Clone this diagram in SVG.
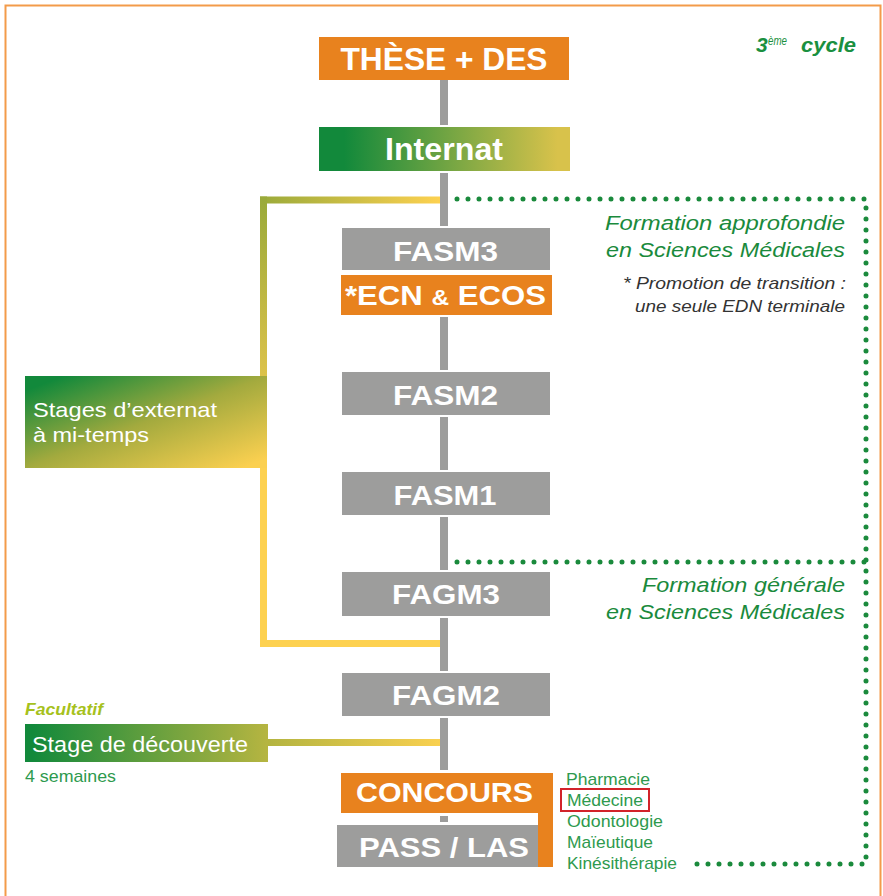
<svg xmlns="http://www.w3.org/2000/svg" width="883" height="896" viewBox="0 0 883 896">
<defs>
<linearGradient id="gInternat" x1="0" y1="0" x2="1" y2="0">
<stop offset="0.1" stop-color="#12893b"/><stop offset="0.95" stop-color="#d8c24b"/>
</linearGradient>
<linearGradient id="gExt" x1="0" y1="0" x2="1" y2="1">
<stop offset="0.08" stop-color="#12893b"/><stop offset="0.5" stop-color="#a3aa3e"/><stop offset="0.95" stop-color="#fbd050"/>
</linearGradient>
<linearGradient id="gDec" x1="0" y1="0" x2="1" y2="0">
<stop offset="0.03" stop-color="#12893b"/><stop offset="1" stop-color="#b6b541"/>
</linearGradient>
<linearGradient id="gDecLine" gradientUnits="userSpaceOnUse" x1="267" y1="0" x2="440" y2="0">
<stop offset="0" stop-color="#b3b440"/><stop offset="1" stop-color="#f9d050"/>
</linearGradient>
<linearGradient id="gTopLine" gradientUnits="userSpaceOnUse" x1="260" y1="0" x2="440" y2="0">
<stop offset="0" stop-color="#9aaa3a"/><stop offset="1" stop-color="#fdd150"/>
</linearGradient>
<linearGradient id="gVertLine" gradientUnits="userSpaceOnUse" x1="0" y1="200" x2="0" y2="376">
<stop offset="0" stop-color="#9aaa3a"/><stop offset="1" stop-color="#dcc24a"/>
</linearGradient>
</defs>
<style>
.box{font-family:"Liberation Sans Narrow","Liberation Sans",Arial,sans-serif;font-weight:bold;fill:#fff;text-anchor:middle;}
.gray{fill:#9d9d9c;}
.orange{fill:#e8821e;}
.title{font-family:"Liberation Sans",Arial,sans-serif;font-style:italic;fill:#1a8a3c;font-size:20px;text-anchor:end;}
.note{font-family:"Liberation Sans",Arial,sans-serif;font-style:italic;fill:#333;font-size:17px;text-anchor:end;}
.list{font-family:"Liberation Sans",Arial,sans-serif;fill:#2e9a4e;font-size:17px;}
.side{font-family:"Liberation Sans",Arial,sans-serif;fill:#fff;}
.cyc{font-family:"Liberation Sans",Arial,sans-serif;font-style:italic;fill:#1a9040;}
.dots{fill:none;stroke:#1a8a3c;stroke-width:5;stroke-linecap:round;stroke-dasharray:0 11;}
</style>
<rect x="5.5" y="5.5" width="875" height="900" fill="#fff" stroke="#f39b4a" stroke-width="2"/>

<g id="connectors">
<rect class="gray" x="440" y="80" width="8" height="45"/>
<rect class="gray" x="440" y="173" width="8" height="53"/>
<rect class="gray" x="440" y="317" width="8" height="53"/>
<rect class="gray" x="440" y="417" width="8" height="53"/>
<rect class="gray" x="440" y="517" width="8" height="53"/>
<rect class="gray" x="440" y="618" width="8" height="53"/>
<rect class="gray" x="440" y="718" width="8" height="52"/>
<rect class="gray" x="440" y="816" width="8" height="6"/>
<rect x="260" y="196.5" width="180" height="7" fill="url(#gTopLine)"/>
<rect x="260" y="196.5" width="7" height="180" fill="url(#gVertLine)"/>
<rect x="260" y="468" width="7" height="179" fill="#fdd150"/>
<rect x="260" y="640" width="180" height="7" fill="#fdd150"/>
<rect x="267" y="739" width="173" height="7" fill="url(#gDecLine)"/>
<path class="dots" d="M457,199 H866 V864 H690"/>
<path class="dots" d="M457,562 H866"/>
</g>

<g id="these">
<rect class="orange" x="319" y="37" width="250" height="43"/>
<text class="box" x="444" y="70" font-size="31" textLength="207" lengthAdjust="spacingAndGlyphs">THÈSE + DES</text>
</g>
<g id="internat">
<rect x="319" y="127" width="251" height="44" fill="url(#gInternat)"/>
<text class="box" x="444" y="160" font-size="31" textLength="118" lengthAdjust="spacingAndGlyphs">Internat</text>
</g>
<g id="fasm3">
<rect class="gray" x="342" y="228" width="208" height="42"/>
<text class="box" x="445.5" y="261" font-size="28" textLength="105" lengthAdjust="spacingAndGlyphs">FASM3</text>
</g>
<g id="ecn">
<rect class="orange" x="341" y="275" width="211" height="40"/>
<text class="box" x="445.5" y="305" font-size="28" textLength="201" lengthAdjust="spacingAndGlyphs">*ECN <tspan font-size="22">&amp;</tspan> ECOS</text>
</g>
<g id="fasm2">
<rect class="gray" x="342" y="372" width="208" height="43"/>
<text class="box" x="445.5" y="405" font-size="28" textLength="105" lengthAdjust="spacingAndGlyphs">FASM2</text>
</g>
<g id="fasm1">
<rect class="gray" x="342" y="472" width="208" height="43"/>
<text class="box" x="445" y="505" font-size="28" textLength="103" lengthAdjust="spacingAndGlyphs">FASM1</text>
</g>
<g id="fagm3">
<rect class="gray" x="342" y="572" width="208" height="44"/>
<text class="box" x="446" y="604" font-size="28" textLength="108" lengthAdjust="spacingAndGlyphs">FAGM3</text>
</g>
<g id="fagm2">
<rect class="gray" x="342" y="673" width="208" height="43"/>
<text class="box" x="446" y="705" font-size="28" textLength="108" lengthAdjust="spacingAndGlyphs">FAGM2</text>
</g>
<g id="concours">
<path class="orange" d="M341,773 H553 V867 H538 V813 H341 Z"/>
<text class="box" x="444.5" y="802" font-size="28" textLength="177" lengthAdjust="spacingAndGlyphs">CONCOURS</text>
</g>
<g id="pass">
<rect class="gray" x="337" y="825" width="201" height="42"/>
<text class="box" x="444" y="857" font-size="28" textLength="170" lengthAdjust="spacingAndGlyphs">PASS / LAS</text>
</g>

<g id="stages-externat">
<rect x="25" y="376" width="242" height="92" fill="url(#gExt)"/>
<text class="side" x="33" y="417" font-size="21" textLength="184" lengthAdjust="spacingAndGlyphs">Stages d’externat</text>
<text class="side" x="33" y="442" font-size="21" textLength="116" lengthAdjust="spacingAndGlyphs">à mi-temps</text>
</g>
<g id="stage-decouverte">
<text x="25" y="715" font-family="Liberation Sans, Arial, sans-serif" font-size="17" font-weight="bold" font-style="italic" fill="#a6c11c" textLength="78" lengthAdjust="spacingAndGlyphs">Facultatif</text>
<rect x="25" y="724" width="243" height="38" fill="url(#gDec)"/>
<text class="side" x="32" y="752" font-size="22" textLength="216" lengthAdjust="spacingAndGlyphs">Stage de découverte</text>
<text class="list" x="25" y="782" textLength="91" lengthAdjust="spacingAndGlyphs">4 semaines</text>
</g>

<g id="cycle">
<text class="cyc" x="756" y="52" font-size="21" font-weight="bold">3</text>
<text class="cyc" x="768" y="45" font-size="13" textLength="19" lengthAdjust="spacingAndGlyphs">ème</text>
<text class="cyc" x="801" y="52" font-size="21" font-weight="bold" textLength="55" lengthAdjust="spacingAndGlyphs">cycle</text>
</g>
<g id="fasm-label">
<text class="title" x="845" y="230" textLength="240" lengthAdjust="spacingAndGlyphs">Formation approfondie</text>
<text class="title" x="845" y="257" textLength="239" lengthAdjust="spacingAndGlyphs">en Sciences Médicales</text>
<text class="note" x="846" y="289" textLength="223" lengthAdjust="spacingAndGlyphs">* Promotion de transition :</text>
<text class="note" x="845" y="312" textLength="210" lengthAdjust="spacingAndGlyphs">une seule EDN terminale</text>
</g>
<g id="fagm-label">
<text class="title" x="845" y="592" textLength="203" lengthAdjust="spacingAndGlyphs">Formation générale</text>
<text class="title" x="845" y="619" textLength="239" lengthAdjust="spacingAndGlyphs">en Sciences Médicales</text>
</g>
<g id="filieres">
<text class="list" x="566" y="785" textLength="84" lengthAdjust="spacingAndGlyphs">Pharmacie</text>
<rect x="561" y="789" width="88" height="22" fill="none" stroke="#d2232a" stroke-width="2"/>
<text class="list" x="567" y="806" textLength="76" lengthAdjust="spacingAndGlyphs">Médecine</text>
<text class="list" x="567" y="827" textLength="96" lengthAdjust="spacingAndGlyphs">Odontologie</text>
<text class="list" x="567" y="848" textLength="86" lengthAdjust="spacingAndGlyphs">Maïeutique</text>
<text class="list" x="567" y="869" textLength="110" lengthAdjust="spacingAndGlyphs">Kinésithérapie</text>
</g>
</svg>
